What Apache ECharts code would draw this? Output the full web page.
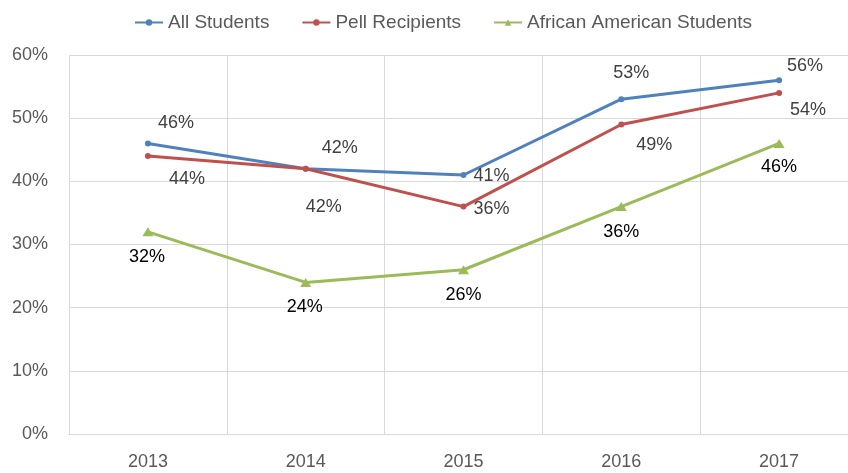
<!DOCTYPE html>
<html>
<head>
<meta charset="utf-8">
<script src="https://cdn.jsdelivr.net/npm/echarts@6/dist/echarts.min.js"></script>
<style>
html,body{margin:0;padding:0;background:#fff;}
#chart{width:848px;height:473px;}
</style>
</head>
<body>
<div id="chart"></div>
<script>
const years = ['2013', '2014', '2015', '2016', '2017'];
const allStudents = [46, 42, 41, 53, 56];
const pellRecipients = [44, 42, 36, 49, 54];
const africanAmerican = [32, 24, 26, 36, 46];

// label offsets (px) relative to each point, reproducing the manual label placement
const allOffsets = [[28, -20], [34, -21], [28, 1], [10, -26], [26, -14]];
const pellOffsets = [[39, 23], [18, 38], [28, 2], [33, 21], [29, 17]];
const aaOffsets = [[-1, 25], [-1, 25], [0, 25], [0, 25], [0, 24]];

const FONT = 'Liberation Sans';

function build(values, offsets) {
  return values.map((v, i) => ({
    value: v,
    label: { offset: offsets[i] }
  }));
}

const chart = echarts.init(document.getElementById('chart'), null, { renderer: 'canvas' });

const labelBase = (color) => ({
  show: true,
  position: 'inside',
  align: 'center',
  verticalAlign: 'middle',
  fontFamily: FONT,
  fontSize: 18,
  color: color,
  formatter: (p) => p.value + '%'
});

chart.setOption({
  animation: false,
  backgroundColor: '#ffffff',
  textStyle: { fontFamily: FONT },
  legend: {
    left: 129,
    top: 8,
    itemWidth: 28,
    itemHeight: 8,
    itemGap: 32,
    textStyle: { fontFamily: FONT, fontSize: 19, color: '#595959', lineHeight: 19 },
    data: ['All Students', 'Pell Recipients', 'African American Students']
  },
  grid: { left: 69, top: 55, width: 789, height: 379, containLabel: false, outerBoundsMode: 'none' },
  xAxis: {
    type: 'category',
    data: years,
    boundaryGap: true,
    axisLine: { show: true, lineStyle: { color: '#d9d9d9', width: 1 } },
    axisTick: { show: false },
    splitLine: { show: true, lineStyle: { color: '#d9d9d9', width: 1 } },
    axisLabel: { fontFamily: FONT, fontSize: 18, color: '#595959', margin: 19, lineHeight: 18 }
  },
  yAxis: {
    type: 'value',
    min: 0,
    max: 60,
    interval: 10,
    axisLine: { show: false },
    axisTick: { show: false },
    splitLine: { show: true, lineStyle: { color: '#d9d9d9', width: 1 } },
    axisLabel: { fontFamily: FONT, fontSize: 18, color: '#595959', margin: 21, formatter: '{value}%' }
  },
  series: [
    {
      name: 'All Students',
      type: 'line',
      data: build(allStudents, allOffsets),
      color: '#4F81BD',
      lineStyle: { width: 3, color: '#4F81BD' },
      itemStyle: { color: '#4F81BD' },
      symbol: 'circle',
      symbolSize: 6,
      label: labelBase('#404040'),
      z: 3
    },
    {
      name: 'Pell Recipients',
      type: 'line',
      data: build(pellRecipients, pellOffsets),
      color: '#C0504D',
      lineStyle: { width: 3, color: '#C0504D' },
      itemStyle: { color: '#C0504D' },
      symbol: 'circle',
      symbolSize: 6,
      label: labelBase('#404040'),
      z: 3
    },
    {
      name: 'African American Students',
      type: 'line',
      data: build(africanAmerican, aaOffsets),
      color: '#9BBB59',
      lineStyle: { width: 3, color: '#9BBB59' },
      itemStyle: { color: '#9BBB59' },
      symbol: 'triangle',
      symbolSize: [11, 9],
      label: labelBase('#000000'),
      z: 3
    }
  ]
});
</script>
</body>
</html>
